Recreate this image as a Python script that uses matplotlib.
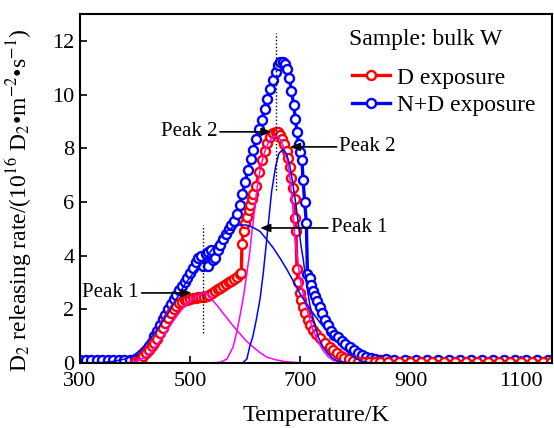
import matplotlib
matplotlib.use("Agg")
import matplotlib.pyplot as plt
from matplotlib.lines import Line2D

# N+D exposure (blue circles)
nd_T = [300, 310, 320, 330, 340, 350, 360, 370, 380, 390, 400,
        405, 410, 415, 420, 425, 430, 435, 440, 445, 450, 455, 460, 465, 470,
        475, 480, 485, 490, 495, 500, 505, 510, 515, 520, 524, 528, 532, 533,
        537, 541, 545, 550, 555, 560, 565, 570, 575, 580, 585, 590, 595, 600,
        605, 610, 615, 620, 625, 630, 635, 640, 645, 650, 655, 660, 664, 668,
        672, 676, 680, 684, 688, 691, 694, 697, 700, 703, 705, 708, 711, 713,
        717, 720, 723, 727, 731, 735, 740, 745, 750, 756, 762, 768, 775, 782,
        790, 797, 805, 812, 820, 828, 836, 845, 855, 870, 890, 910, 930, 950,
        970, 990, 1010, 1030, 1050, 1070, 1090, 1110, 1130, 1150]
nd_rate = [0.12, 0.11, 0.12, 0.12, 0.11, 0.12, 0.11, 0.12, 0.12, 0.11, 0.13,
           0.15, 0.22, 0.32, 0.45, 0.62, 0.80, 1.00, 1.20, 1.42, 1.62, 1.80, 2.00, 2.20, 2.38,
           2.55, 2.72, 2.88, 3.03, 3.18, 3.35, 3.55, 3.75, 3.90, 4.00, 3.60, 4.05, 4.15, 3.60,
           4.20, 3.85, 3.90, 4.20, 4.40, 4.60, 4.80, 5.00, 5.15, 5.30, 5.55, 5.90, 6.30, 6.75,
           7.20, 7.60, 7.95, 8.35, 8.70, 9.05, 9.45, 9.85, 10.20, 10.55, 10.85, 11.10, 11.20, 11.22,
           11.15, 10.95, 10.60, 10.15, 9.60, 9.10, 8.60, 8.15, 7.85, 7.55, 6.80, 6.00, 5.20, 3.30,
           3.15, 2.90, 2.70, 2.50, 2.30, 2.10, 1.85, 1.60, 1.40, 1.20, 1.05, 0.95, 0.82, 0.70,
           0.58, 0.48, 0.38, 0.30, 0.22, 0.17, 0.14, 0.12, 0.14, 0.11, 0.10, 0.11, 0.10, 0.11,
           0.10, 0.11, 0.10, 0.10, 0.11, 0.10, 0.11, 0.10, 0.10, 0.11]

# D exposure (red circles)
d_T = [400, 405, 410, 415, 420, 425, 430, 435, 440, 445, 450, 455, 460, 465, 470,
       475, 480, 485, 490, 495, 500, 505, 510, 515, 520, 525, 530, 535, 540,
       545, 550, 555, 560, 565, 570, 575, 580, 585, 590, 593, 594, 597, 600,
       603, 606, 609, 612, 615, 620, 625, 630, 635, 640, 645, 650, 655, 659,
       663, 667, 671, 675, 678, 681, 684, 687, 690, 691, 692, 694, 696, 699,
       702, 705, 709, 714, 718, 723, 729, 736, 745, 754, 760, 766, 773, 780,
       788, 796, 805, 815, 825, 835, 845, 860, 880, 900, 920, 940, 960, 980,
       1000, 1020, 1040, 1060, 1080, 1100, 1120, 1140, 1155]
d_rate = [0.02, 0.05, 0.12, 0.25, 0.38, 0.50, 0.62, 0.75, 0.90, 1.10, 1.30, 1.50, 1.68, 1.85, 2.00,
          2.12, 2.22, 2.28, 2.33, 2.36, 2.39, 2.41, 2.43, 2.44, 2.45, 2.47, 2.50, 2.55, 2.62,
          2.70, 2.75, 2.80, 2.86, 2.93, 3.00, 3.06, 3.12, 3.20, 3.30, 3.35, 4.45, 4.90, 5.20,
          5.45, 5.70, 5.90, 6.10, 6.30, 6.60, 7.10, 7.55, 7.90, 8.20, 8.40, 8.55, 8.62, 8.62,
          8.50, 8.35, 8.15, 7.90, 7.65, 7.30, 6.90, 6.50, 6.10, 5.40, 4.90, 3.50, 3.00, 2.60,
          2.35, 2.10, 1.85, 1.60, 1.40, 1.23, 1.07, 0.93, 0.75, 0.60, 0.48, 0.37, 0.27, 0.20,
          0.13, 0.08, 0.05, 0.04, 0.04, 0.04, 0.05, 0.04, 0.04, 0.05, 0.04, 0.04, 0.05, 0.04,
          0.04, 0.05, 0.04, 0.04, 0.05, 0.04, 0.04, 0.05, 0.04]

# fitted peaks, D exposure (magenta)
d_p1_T = [300, 380, 400, 420, 430, 440, 450, 460, 470, 480, 490, 500, 510, 520, 528,
          535, 542, 550, 558, 567, 578, 590, 602, 614, 626, 639, 655, 675, 700, 730, 1157]
d_p1_rate = [0, 0, 0.05, 0.22, 0.42, 0.68, 0.97, 1.28, 1.58, 1.86, 2.12, 2.32, 2.47, 2.56, 2.60,
             2.52, 2.30, 2.12, 1.90, 1.67, 1.38, 1.10, 0.82, 0.60, 0.40, 0.22, 0.12, 0.04, 0.01, 0, 0]
d_p2_T = [300, 540, 555, 567, 578, 584, 590, 597, 603, 608, 612, 617, 621, 628, 635, 642,
          650, 658, 665, 671, 676, 681, 686, 690, 695, 699, 705, 712, 718, 723, 732, 741,
          750, 759, 775, 800, 1157]
d_p2_rate = [0, 0, 0.03, 0.15, 0.60, 1.10, 1.70, 2.50, 3.35, 4.10, 4.85, 5.70, 6.45, 7.30, 7.85, 8.20,
             8.42, 8.45, 8.30, 7.95, 7.60, 6.90, 5.90, 4.70, 3.90, 3.20, 2.60, 2.00, 1.55, 1.23, 0.80, 0.48,
             0.25, 0.10, 0.02, 0, 0]

# fitted peaks, N+D exposure (blue)
nd_p1_T = [300, 340, 360, 380, 396, 410, 420, 430, 445, 460, 470, 481, 490, 500, 510, 518,
           530, 542, 554, 566, 578, 590, 602, 614, 627, 639, 651, 664, 676, 688, 699, 711,
           723, 736, 748, 757, 766, 778, 790, 803, 815, 830, 1157]
nd_p1_rate = [0, 0.02, 0.06, 0.14, 0.25, 0.50, 0.72, 0.98, 1.38, 1.85, 2.20, 2.60, 2.92, 3.20, 3.45, 3.62,
              3.95, 4.30, 4.65, 4.90, 5.07, 5.14, 5.14, 5.05, 4.90, 4.60, 4.28, 3.88, 3.47, 3.02, 2.60, 2.20,
              1.86, 1.50, 1.20, 1.00, 0.80, 0.55, 0.32, 0.14, 0.05, 0, 0]
nd_p2_T = [300, 595, 603, 608, 614, 620, 627, 633, 639, 644, 648, 655, 661, 668, 675, 681,
           687, 692, 697, 701, 705, 709, 713, 717, 721, 727, 733, 741, 750, 759, 768, 785, 800, 1157]
nd_p2_rate = [0, 0, 0.15, 0.60, 1.00, 1.60, 2.40, 3.40, 4.60, 5.60, 6.40, 7.30, 7.80, 7.95, 7.80, 7.35,
              6.60, 5.90, 5.10, 4.40, 3.90, 3.30, 2.70, 2.20, 1.85, 1.35, 0.95, 0.60, 0.35, 0.17, 0.07, 0.01, 0, 0]

plt.rcParams['font.family'] = ['Liberation Serif', 'DejaVu Serif']
plt.rcParams['mathtext.fontset'] = 'stix'

fig = plt.figure(figsize=(5.54, 4.28), dpi=100)
ax = fig.add_axes([0.1444, 0.1519, 0.8520, 0.8154])

data_style = dict(lw=2.4, ms=6.5, mfc='white', mew=1.7)
ax.plot(nd_T, nd_rate, '-o', color='#0000ff', mec='#0000ff', **data_style)
ax.plot(d_T, d_rate, '-o', color='#ff0000', mec='#ff0000', **data_style)

ax.plot(d_p1_T, d_p1_rate, color='#ff00ff', lw=1.1)
ax.plot(d_p2_T, d_p2_rate, color='#ff00ff', lw=1.1)
ax.plot(nd_p1_T, nd_p1_rate, color='#0000ff', lw=1.1)
ax.plot(nd_p2_T, nd_p2_rate, color='#0000ff', lw=1.1)

# dotted markers at peak positions
ax.plot([523, 523], [1.1, 5.15], color='black', lw=1, ls=(0, (1, 1.5)))
ax.plot([656, 656], [6.45, 12.3], color='black', lw=1, ls=(0, (1, 1.5)))

# arrows + labels: (text, tail T, head T, y, side)
arrows = [
    ('Peak 2', 554, 648, 8.61, 'left'),
    ('Peak 2', 766, 681, 8.05, 'right'),
    ('Peak 1', 750, 627, 5.03, 'right'),
    ('Peak 1', 412, 503, 2.61, 'left'),
]
for txt, tail, head, yy, side in arrows:
    ax.annotate('', xy=(head, yy), xytext=(tail, yy),
                arrowprops=dict(arrowstyle='-|>,head_length=0.5,head_width=0.2',
                                color='black', lw=1.2, shrinkA=0, shrinkB=0,
                                mutation_scale=12))
    if side == 'left':
        ax.text(tail - 5, yy, txt, ha='right', va='center', fontsize=15)
    else:
        ax.text(tail + 5, yy, txt, ha='left', va='center', fontsize=15)

ax.set_xlim(300, 1157)
ax.set_ylim(0, 13)
ax.set_xticks([300, 500, 700, 900, 1100])
ax.set_yticks([0, 2, 4, 6, 8, 10, 12])
ax.tick_params(direction='in', length=5, width=1.2, labelsize=16, pad=4)
ax.tick_params(axis='x', pad=6.5)
for s in ax.spines.values():
    s.set_linewidth(1.5)

ax.set_xlabel('Temperature/K', fontsize=17.5, labelpad=10)
ax.set_ylabel('D$_2$ releasing rate/(10$^{16}$ D$_2$\u2022m$^{-2}$\u2022s$^{-1}$)', fontsize=17)
ax.yaxis.set_label_coords(-0.097, 0.467)

# legend: title as separate text, entries below
ax.text(0.570, 0.928, 'Sample: bulk W', transform=ax.transAxes, ha='left', va='center', fontsize=17)
handles = [Line2D([], [], marker='o', color='#ff0000', mec='#ff0000', **data_style),
           Line2D([], [], marker='o', color='#0000ff', mec='#0000ff', **data_style)]
ax.legend(handles, ['D exposure', 'N+D exposure'], loc='upper left',
          bbox_to_anchor=(0.576, 0.848), frameon=False, fontsize=17,
          handlelength=1.6, handletextpad=0.3, labelspacing=0.25, borderpad=0,
          borderaxespad=0, numpoints=1)

fig.savefig('out.png', dpi=100)
